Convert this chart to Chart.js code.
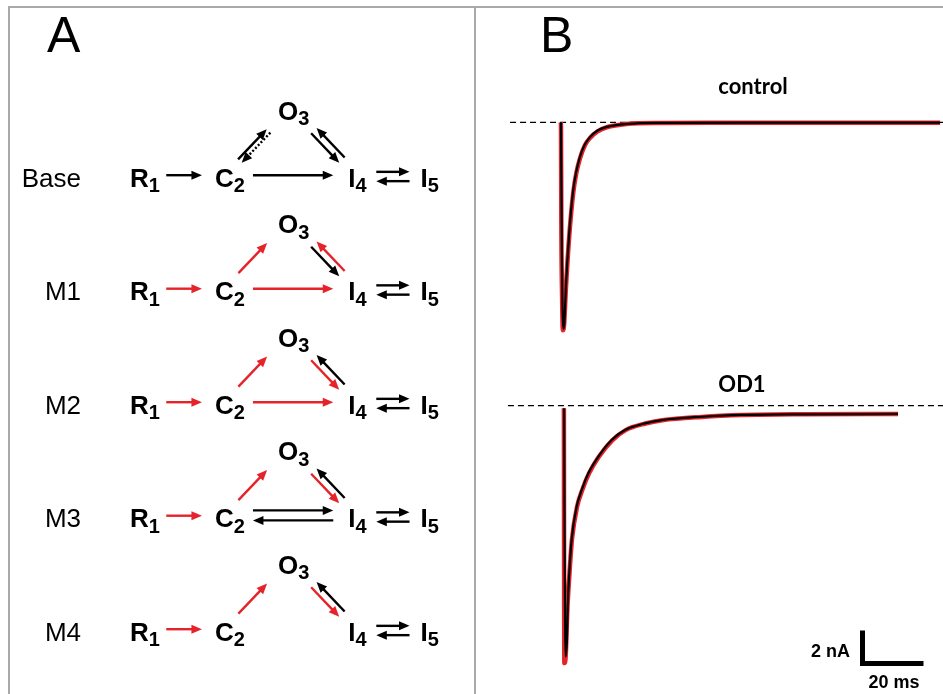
<!DOCTYPE html>
<html><head><meta charset="utf-8">
<script src="https://cdn.jsdelivr.net/npm/chart.js@4.4.1/dist/chart.umd.min.js"></script>
<style>
html,body{margin:0;padding:0;background:#fff;}
#wrap{position:relative;width:943px;height:694px;overflow:hidden;background:#fff;}
canvas{position:absolute;}
.rule{position:absolute;background:#a9a9a9;}
</style></head><body>
<div id="wrap">
<canvas id="cA" width="476" height="694" style="left:0;top:0"></canvas>
<canvas id="cB" width="467" height="694" style="left:476px;top:0"></canvas>
<div class="rule" style="left:8px;top:6px;width:935px;height:2px"></div>
<div class="rule" style="left:8px;top:6px;width:2px;height:688px"></div>
<div class="rule" style="left:474px;top:6px;width:2px;height:688px"></div>
</div>
<script>
// ---------------- DATA: panel A (kinetic schemes) ----------------
const panelLabels = ['A', 'B'];
const models = ['Base', 'M1', 'M2', 'M3', 'M4'];
const states = ['R1', 'C2', 'O3', 'I4', 'I5'];
const stateLetter = ['R', 'C', 'O', 'I', 'I'];
const stateIndex = ['1', '2', '3', '4', '5'];
// transitions: [from, to, colour key, line style]
const baseTransitions = [['R1','C2','k','solid'],['C2','O3','k','solid'],['O3','C2','k','dotted'],['O3','I4','k','solid'],['I4','O3','k','solid'],['C2','I4','k','solid'],['I4','I5','k','solid'],['I5','I4','k','solid']];
const m1Transitions = [['R1','C2','r','solid'],['C2','O3','r','solid'],['O3','I4','k','solid'],['I4','O3','r','solid'],['C2','I4','r','solid'],['I4','I5','k','solid'],['I5','I4','k','solid']];
const m2Transitions = [['R1','C2','r','solid'],['C2','O3','r','solid'],['O3','I4','r','solid'],['I4','O3','k','solid'],['C2','I4','r','solid'],['I4','I5','k','solid'],['I5','I4','k','solid']];
const m3Transitions = [['R1','C2','r','solid'],['C2','O3','r','solid'],['O3','I4','r','solid'],['I4','O3','k','solid'],['C2','I4','k','solid'],['I4','C2','k','solid'],['I4','I5','k','solid'],['I5','I4','k','solid']];
const m4Transitions = [['R1','C2','r','solid'],['C2','O3','r','solid'],['O3','I4','r','solid'],['I4','O3','k','solid'],['I4','I5','k','solid'],['I5','I4','k','solid']];
const modelTransitions = [baseTransitions, m1Transitions, m2Transitions, m3Transitions, m4Transitions];

// ---------------- DATA: panel B (currents, ms / nA) ----------------
const traceTitles = ['control', 'OD1'];
const baselineT = [-16.7, 126];
const od1BaselineT = [-17.4, 126];
const baselineI = [0, 0];
const controlRecordedT = [-0.1, 0, 0.1, 0.35, 0.6, 1.0, 1.6, 2.7, 4.0, 5.0, 6.2, 7.8, 9.5, 12, 15, 21.5, 32, 50, 80, 124.3];
const controlRecordedI = [0, -0.3, -6, -10.5, -12.6, -12.3, -10.1, -6.9, -4.3, -3.1, -2.2, -1.4, -0.95, -0.55, -0.3, -0.1, -0.04, -0.03, -0.03, -0.03];
const controlFitT = [0, 0.3, 0.75, 1.1, 1.6, 2.7, 4.0, 5.0, 6.2, 7.8, 9.5, 12, 15, 21.5, 32, 60, 124.3];
const controlFitI = [0, -8.2, -12.5, -12.2, -10.0, -6.7, -4.1, -3.0, -2.1, -1.35, -0.9, -0.5, -0.28, -0.1, -0.03, -0.02, -0.02];
const od1RecordedT = [0.95, 1.0, 1.1, 1.5, 2.1, 2.8, 3.6, 5.3, 7.0, 9.2, 12.4, 16.8, 21.2, 27.7, 33.2, 46.2, 59.4, 80, 110.5];
const od1RecordedI = [-0.15, -8, -15.6, -15.3, -12.3, -10.1, -8.1, -6.1, -5.1, -4.1, -3.1, -2.1, -1.48, -1.08, -0.88, -0.68, -0.57, -0.52, -0.5];
const od1FitT = [1.0, 1.2, 1.5, 1.95, 2.2, 2.7, 3.5, 5.15, 6.8, 8.96, 12.2, 16.6, 21, 27.5, 33, 46, 59, 80, 110.5];
const od1FitI = [-0.15, -9, -15.2, -14.2, -12.2, -10.2, -8.1, -6.1, -5.1, -4.1, -3.1, -2.08, -1.47, -1.07, -0.87, -0.67, -0.56, -0.52, -0.5];
const scaleBarTime = [20];     // ms
const scaleBarCurrent = [2];   // nA
const scaleBarLabels = ['20 ms', '2 nA'];

// ---------------- LAYOUT / STYLE ----------------
const COLORS = { k: '#000000', r: '#e5232a' };
const LA = {
  W: 476, H: 694, col0: 145, colPx: 85, row0: 177.2, rowPx: 113.5,
  stateCol: { R1: 0, C2: 1, O3: 1.75, I4: 2.5, I5: 3.35 },
  stateRow: { R1: 0, C2: 0, O3: -0.59, I4: 0, I5: 0 },
  rowLabelRight: 81
};
// geometry for each state pair (first state -> second state)
const linkGeom = {
  'R1-C2': { t0: 0.25, t1: 0.67, shift: 2, sep: 0 },
  'C2-I4': { t0: 0.18, t1: 0.81, shift: 2, pair: 2.3, sep: 10 },
  'I4-I5': { t0: 0.26, t1: 0.72, shift: 0.7, pair: 0.7, sep: 9.3 },
  'C2-O3': { t0: 0.2, t1: 0.65, shift: 6, pair: 4, sep: 5 },
  'O3-I4': { t0: 0.31, t1: 0.75, shift: 0.5, pair: 0.5, sep: 7.5, fwdSign: -1 }
};
const FONT = '"Liberation Sans", Arial, sans-serif';

function drawArrow(ctx, tail, tip, color, dotted) {
  const dx = tip.x - tail.x, dy = tip.y - tail.y, len = Math.hypot(dx, dy);
  const ux = dx / len, uy = dy / len, hl = 10.5, hw = 4.5;
  const bx = tip.x - ux * hl, by = tip.y - uy * hl;
  ctx.save();
  ctx.strokeStyle = color; ctx.fillStyle = color; ctx.lineWidth = 2.4; ctx.lineCap = 'butt';
  if (dotted) ctx.setLineDash([2, 2]);
  ctx.beginPath(); ctx.moveTo(tail.x, tail.y); ctx.lineTo(bx + ux, by + uy); ctx.stroke();
  ctx.setLineDash([]);
  ctx.beginPath(); ctx.moveTo(tip.x, tip.y);
  ctx.lineTo(bx - uy * hw, by + ux * hw); ctx.lineTo(bx + uy * hw, by - ux * hw);
  ctx.closePath(); ctx.fill();
  ctx.restore();
}

const schemePlugin = {
  id: 'scheme',
  afterDatasetsDraw(chart) {
    const { ctx, scales: { x, y } } = chart;
    ctx.save();
    ctx.fillStyle = '#000';
    ctx.font = '50px ' + FONT; ctx.textAlign = 'left'; ctx.textBaseline = 'alphabetic';
    ctx.fillText(panelLabels[0], 47, 52);
    models.forEach((m, r) => {
      const anchor = s => ({ x: x.getPixelForValue(LA.stateCol[s]), y: y.getPixelForValue(r + LA.stateRow[s]) });
      const rowY = y.getPixelForValue(r);
      ctx.font = '26px ' + FONT; ctx.textAlign = 'right';
      ctx.fillText(m, LA.rowLabelRight, rowY + 9.5);
      ctx.textAlign = 'left';
      states.forEach((s, i) => {
        const a = anchor(s);
        ctx.font = 'bold 26px ' + FONT; const wm = ctx.measureText(stateLetter[i]).width;
        ctx.font = 'bold 20px ' + FONT; const ws = ctx.measureText(stateIndex[i]).width;
        const left = a.x - (wm + ws) / 2;
        ctx.font = 'bold 26px ' + FONT; ctx.fillText(stateLetter[i], left, a.y + 9.3);
        ctx.font = 'bold 20px ' + FONT; ctx.fillText(stateIndex[i], left + wm, a.y + 15);
      });
      const trs = modelTransitions[r];
      trs.forEach(([from, to, col, style]) => {
        const fi = states.indexOf(from), ti = states.indexOf(to);
        const first = fi < ti ? from : to, second = fi < ti ? to : from;
        const g = linkGeom[first + '-' + second];
        const fwd = from === first;
        const paired = trs.some(t => t[0] === to && t[1] === from);
        const A = anchor(first), B = anchor(second);
        const dx = B.x - A.x, dy = B.y - A.y, len = Math.hypot(dx, dy);
        const nx = dy / len, ny = -dx / len;
        const off = paired ? (g.pair ?? g.shift) + (fwd ? 1 : -1) * (g.fwdSign ?? 1) * g.sep / 2 : g.shift;
        const p0 = { x: A.x + g.t0 * dx + off * nx, y: A.y + g.t0 * dy + off * ny };
        const p1 = { x: A.x + g.t1 * dx + off * nx, y: A.y + g.t1 * dy + off * ny };
        if (fwd) drawArrow(ctx, p0, p1, COLORS[col], style === 'dotted');
        else drawArrow(ctx, p1, p0, COLORS[col], style === 'dotted');
      });
    });
    ctx.restore();
  }
};

const nodePoints = [];
models.forEach((m, r) => states.forEach(s => nodePoints.push({ x: LA.stateCol[s], y: r + LA.stateRow[s] })));

new Chart(document.getElementById('cA'), {
  type: 'scatter',
  data: { datasets: [{ data: nodePoints, pointRadius: 0, pointHoverRadius: 0 }] },
  options: {
    responsive: false, animation: false, devicePixelRatio: 1,
    layout: { padding: 0 },
    plugins: { legend: { display: false }, tooltip: { enabled: false } },
    events: [],
    scales: {
      x: { type: 'linear', display: false, min: -LA.col0 / LA.colPx, max: (LA.W - LA.col0) / LA.colPx },
      y: { type: 'linear', display: false, reverse: true, min: -LA.row0 / LA.rowPx, max: (LA.H - LA.row0) / LA.rowPx }
    }
  },
  plugins: [schemePlugin]
});

// ---------------- Panel B ----------------
const LB = { W: 467, H: 694, t0Px: 85, pxPerMs: 3.05, pxPerNA: 16.5, ctrlBasePx: 122.3, odBasePx: 405.7 };
const zip = (t, v) => t.map((tt, i) => ({ x: tt, y: v[i] }));

const tracePlugin = {
  id: 'traceDecor',
  afterDatasetsDraw(chart) {
    const { ctx, scales: { x, yo } } = chart;
    ctx.save();
    ctx.fillStyle = '#000';
    ctx.font = '50px ' + FONT; ctx.textAlign = 'left'; ctx.textBaseline = 'alphabetic';
    ctx.fillText(panelLabels[1], 64, 52);
    ctx.font = 'bold 22px Lato, "Open Sans", sans-serif'; ctx.textAlign = 'center';
    ctx.fillText(traceTitles[0], 277, 94);
    ctx.fillText(traceTitles[1], 266, 391.5);
    // scale bar
    const cx = 386.5, cy = 663.5;
    const lenT = x.getPixelForValue(scaleBarTime[0]) - x.getPixelForValue(0);
    const lenI = yo.getPixelForValue(0) - yo.getPixelForValue(scaleBarCurrent[0]);
    ctx.strokeStyle = '#000'; ctx.lineWidth = 5; ctx.lineJoin = 'miter'; ctx.lineCap = 'butt';
    ctx.beginPath(); ctx.moveTo(cx, cy - lenI); ctx.lineTo(cx, cy); ctx.lineTo(cx + lenT, cy); ctx.stroke();
    ctx.font = 'bold 18px ' + FONT;
    ctx.textAlign = 'right'; ctx.fillText(scaleBarLabels[1], 374, 656.5);
    ctx.textAlign = 'center'; ctx.fillText(scaleBarLabels[0], 418, 688);
    ctx.restore();
  }
};

const RED = COLORS.r;
// Chart.js paints dataset 0 last (on top): fits first, then recordings, then baselines
new Chart(document.getElementById('cB'), {
  type: 'scatter',
  data: {
    datasets: [
      { data: zip(controlFitT, controlFitI), yAxisID: 'yc', showLine: true, borderColor: '#000', borderWidth: 2.2, pointRadius: 0, cubicInterpolationMode: 'monotone' },
      { data: zip(od1FitT, od1FitI), yAxisID: 'yo', showLine: true, borderColor: '#000', borderWidth: 2.2, pointRadius: 0, cubicInterpolationMode: 'monotone' },
      { data: zip(controlRecordedT, controlRecordedI), yAxisID: 'yc', showLine: true, borderColor: RED, borderWidth: 4.5, pointRadius: 0, cubicInterpolationMode: 'monotone' },
      { data: zip(od1RecordedT, od1RecordedI), yAxisID: 'yo', showLine: true, borderColor: RED, borderWidth: 4.5, pointRadius: 0, cubicInterpolationMode: 'monotone' },
      { data: zip(baselineT, baselineI), yAxisID: 'yc', showLine: true, borderColor: '#000', borderWidth: 1.3, borderDash: [6, 4], pointRadius: 0 },
      { data: zip(od1BaselineT, baselineI), yAxisID: 'yo', showLine: true, borderColor: '#000', borderWidth: 1.3, borderDash: [6, 4], pointRadius: 0 }
    ]
  },
  options: {
    responsive: false, animation: false, devicePixelRatio: 1,
    layout: { padding: 0 },
    plugins: { legend: { display: false }, tooltip: { enabled: false } },
    events: [],
    scales: {
      x: { type: 'linear', display: false, min: -LB.t0Px / LB.pxPerMs, max: (LB.W - LB.t0Px) / LB.pxPerMs },
      yc: { axis: 'y', type: 'linear', display: false, min: -(LB.H - LB.ctrlBasePx) / LB.pxPerNA, max: LB.ctrlBasePx / LB.pxPerNA },
      yo: { axis: 'y', type: 'linear', display: false, min: -(LB.H - LB.odBasePx) / LB.pxPerNA, max: LB.odBasePx / LB.pxPerNA }
    }
  },
  plugins: [tracePlugin]
});
</script>
</body></html>
